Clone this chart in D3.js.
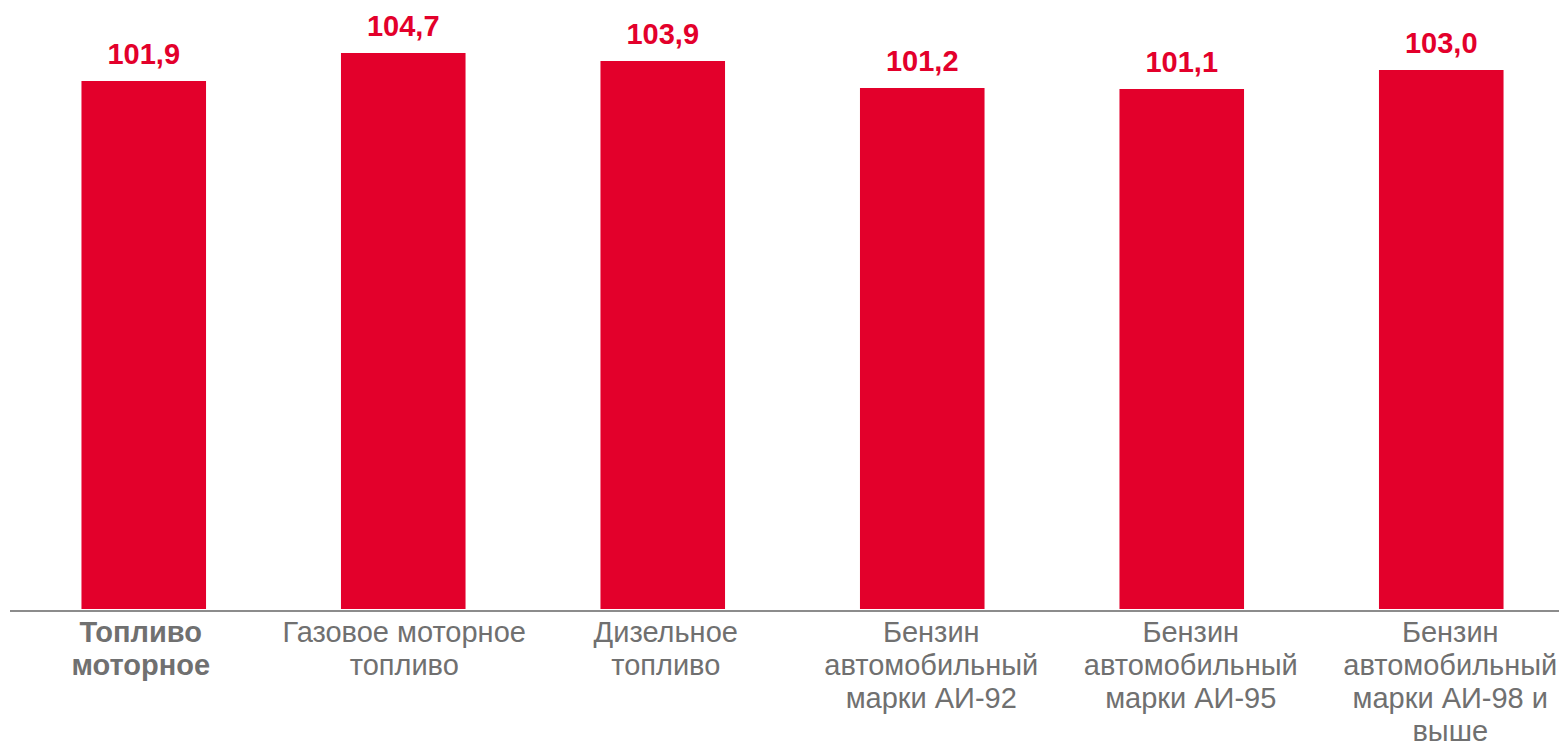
<!DOCTYPE html>
<html>
<head>
<meta charset="utf-8">
<script src="https://cdn.jsdelivr.net/npm/d3@7"></script>
<style>
  body { margin: 0; background: #fff; }
  text { font-family: "Liberation Sans", Arial, sans-serif; }
</style>
</head>
<body>
<svg id="chart" width="1559" height="749"></svg>
<script>
const categories = [
  ["Топливо", "моторное"],
  ["Газовое моторное", "топливо"],
  ["Дизельное", "топливо"],
  ["Бензин", "автомобильный", "марки АИ-92"],
  ["Бензин", "автомобильный", "марки АИ-95"],
  ["Бензин", "автомобильный", "марки АИ-98 и", "выше"]
];
const values = [101.9, 104.7, 103.9, 101.2, 101.1, 103.0];
const valueLabels = ["101,9", "104,7", "103,9", "101,2", "101,1", "103,0"];

const svg = d3.select("#chart");
const red = "#e3002b";

const x = d3.scaleBand()
  .domain(d3.range(categories.length))
  .range([14, 1571])
  .paddingInner(0.52)
  .paddingOuter(0.26);

const y = d3.scaleLinear()
  .domain([49.1, 104.7])
  .range([609, 53]);

// bars
svg.selectAll("rect.bar")
  .data(values)
  .join("rect")
  .attr("class", "bar")
  .attr("x", (d, i) => x(i))
  .attr("y", d => y(d))
  .attr("width", x.bandwidth())
  .attr("height", d => y.range()[0] - y(d))
  .attr("fill", red);

// axis line
svg.append("line")
  .attr("x1", 10).attr("x2", 1559)
  .attr("y1", 611).attr("y2", 611)
  .attr("stroke", "#8c8c8c")
  .attr("stroke-width", 2);

// value labels
svg.selectAll("text.value")
  .data(values)
  .join("text")
  .attr("class", "value")
  .attr("x", (d, i) => x(i) + x.bandwidth() / 2)
  .attr("y", d => y(d) - 17.5)
  .attr("text-anchor", "middle")
  .style("font-size", "29px")
  .style("font-weight", "bold")
  .attr("fill", red)
  .text((d, i) => valueLabels[i]);

// category labels (the wrapped ones sit slightly right of bar centre in the original)
const labelDx = [-3, 1, 3, 9, 9, 9];
const cat = svg.selectAll("text.cat")
  .data(categories)
  .join("text")
  .attr("class", "cat")
  .attr("text-anchor", "middle")
  .attr("fill", "#707070")
  .style("font-size", "29px")
  .style("font-weight", (d, i) => i === 0 ? "bold" : "normal")
  .attr("transform", (d, i) => `translate(${x(i) + x.bandwidth() / 2 + labelDx[i]},642)`);

cat.selectAll("tspan")
  .data(d => d)
  .join("tspan")
  .attr("x", 0)
  .attr("y", (d, j) => j * 33)
  .text(d => d);
</script>
</body>
</html>
